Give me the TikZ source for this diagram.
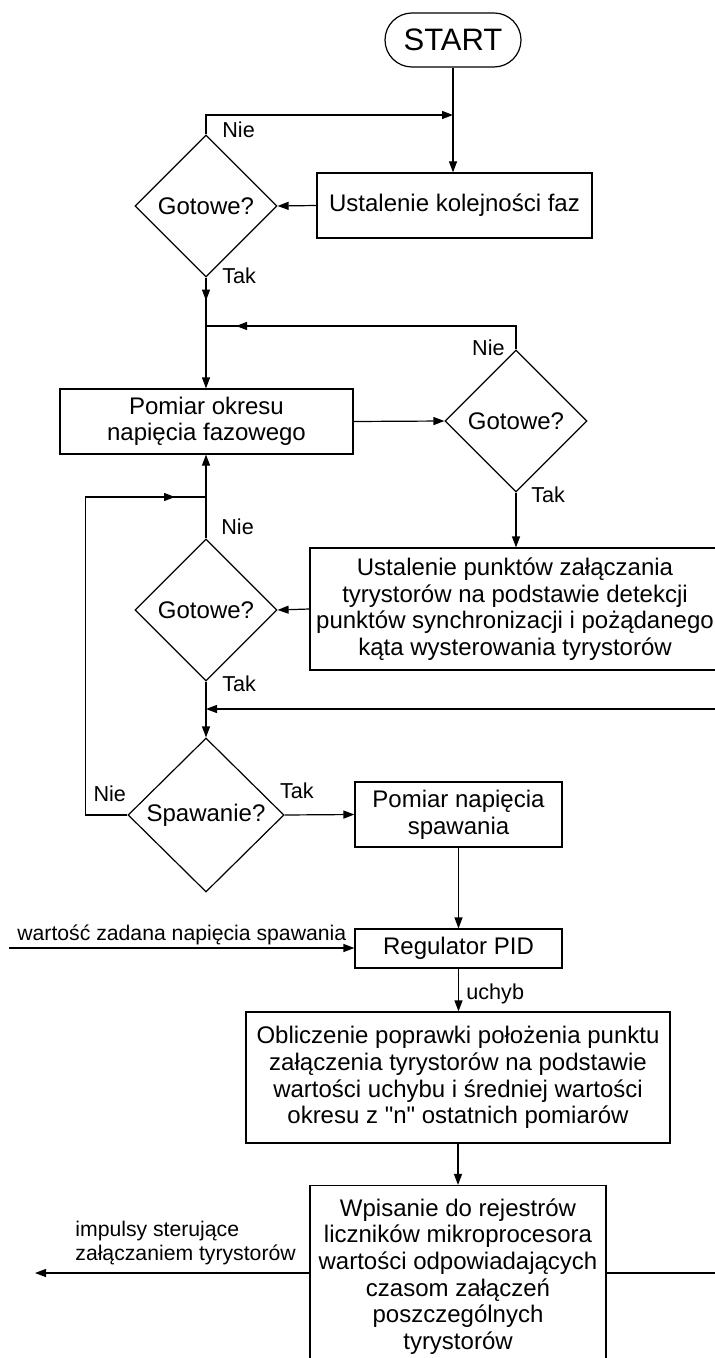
\documentclass[tikz,border=0pt]{standalone}
\usepackage{fontspec}
\setmainfont{Liberation Sans}[Ligatures=TeXOff]
\usepackage{tikz}
\usetikzlibrary{shapes.geometric, shapes.misc, arrows.meta, positioning, calc}
\tikzstyle{startstop} = [rounded rectangle, draw, line width=0.6pt, minimum width=68pt, minimum height=27pt, inner sep=0pt, font=\fontsize{15.5}{18}\selectfont]
\tikzstyle{process} = [rectangle, draw, line width=0.6pt, align=center, inner sep=1pt, font=\fontsize{12}{13.3}\selectfont]
\tikzstyle{decision} = [diamond, draw, line width=0.6pt, inner sep=0pt, minimum width=71pt, minimum height=71pt, font=\fontsize{12}{13.3}\selectfont]
\tikzstyle{answer} = [inner sep=0pt, font=\fontsize{10.8}{12}\selectfont]
\tikzstyle{signal} = [inner sep=0pt, align=left, font=\fontsize{10.6}{11.6}\selectfont]
\tikzstyle{wire} = [line width=0.6pt]
\tikzstyle{arrow} = [line width=0.6pt, -{Triangle[length=5.5pt,width=4pt]}]

\begin{document}
\begin{tikzpicture}[x=0.5pt, y=-0.5pt]
  \useasboundingbox (0,0) rectangle (715,1358);
  \clip (0,0) rectangle (715,1358);

  % Phase order
  \node (start) [startstop] at (453,40) {START};
  \node (kolejnosc) [process, minimum width=137.5pt, minimum height=32.5pt] at (454.5,205.5) {Ustalenie kolejności faz};
  \node (gotowe1) [decision] at (206,206) {Gotowe?};

  % Period measurement
  \node (pomiar) [process, minimum width=146.5pt, minimum height=32.5pt] at (206.5,421.5) {Pomiar okresu\\napięcia fazowego};
  \node (gotowe2) [decision] at (516,421) {Gotowe?};
  \node (ustalenie) [process, minimum width=205pt, minimum height=61pt] at (515,609) {Ustalenie punktów załączania\\tyrystorów na podstawie detekcji\\punktów synchronizacji i pożądanego\\kąta wysterowania tyrystorów};
  \node (gotowe3) [decision] at (206,610) {Gotowe?};

  % Welding control
  \node (spawanie) [decision, minimum width=78pt, minimum height=77pt] at (206,815) {Spawanie?};
  \node (pomiarnap) [process, minimum width=103.5pt, minimum height=32.5pt] at (458.5,814.5) {Pomiar napięcia\\spawania};
  \node (regulator) [process, minimum width=103.5pt, minimum height=19.5pt] at (458.5,948.5) {Regulator PID};
  \node (oblicz) [process, minimum width=212pt, minimum height=65.5pt] at (458,1077.5) {Obliczenie poprawki położenia punktu\\załączenia tyrystorów na podstawie\\wartości uchybu i średniej wartości\\okresu z "n" ostatnich pomiarów};
  \node (wpisanie) [process, minimum width=148pt, minimum height=91pt] at (458,1276.5) {Wpisanie do rejestrów\\liczników mikroprocesora\\wartości odpowiadających\\czasom załączeń\\poszczególnych\\tyrystorów};

  % Junctions and free ends
  \coordinate (j0) at (453,115);
  \coordinate (j1) at (206,326);
  \coordinate (j2) at (206,497);
  \coordinate (j3) at (206,709);
  \coordinate (setp) at (9,948);
  \coordinate (impulsy) at (35,1273);

  % Arrows
  \draw[arrow] (start.south) -- (start.south |- kolejnosc.north);
  \draw[arrow] (gotowe1.north) |- (j0);
  \node (nie1) [answer, anchor=base west] at ($(gotowe1.north)+(16,3)$) {Nie};
  \draw[arrow] (kolejnosc.west) -- (gotowe1.east);

  \draw[arrow] (gotowe1.south) -- (gotowe1.south |- pomiar.north);
  \draw[arrow] (gotowe1.south) -- ++(0,23);
  \node (tak1) [answer, anchor=base west] at ($(gotowe1.south)+(16,6)$) {Tak};

  \draw[wire] (gotowe2.north) |- (j1);
  \draw[arrow] (gotowe2.north) |- ($(j1)+(30,0)$);
  \node (nie2) [answer, anchor=base east] at ($(gotowe2.north)+(-11,6)$) {Nie};
  \draw[arrow] (pomiar.east) -- (gotowe2.west);
  \draw[arrow] (gotowe2.south) -- (gotowe2.south |- ustalenie.north);
  \node (tak2) [answer, anchor=base west] at ($(gotowe2.south)+(15,10)$) {Tak};

  \draw[arrow] (ustalenie.west) -- (gotowe3.east);
  \draw[arrow] (gotowe3.north) -- (gotowe3.north |- pomiar.south);
  \node (nie3) [answer, anchor=base west] at ($(gotowe3.north)+(15,-4)$) {Nie};
  \draw[arrow] (gotowe3.south) -- (spawanie.north);
  \node (tak3) [answer, anchor=base west] at ($(gotowe3.south)+(16,10)$) {Tak};

  \draw[wire] (spawanie.west) -- ++(-42,0) |- (j2);
  \draw[arrow] (spawanie.west) -- ++(-42,0) |- ($(j2)+(-31,0)$);
  \node (nie4) [answer, anchor=base east] at ($(spawanie.west)+(-1,-14)$) {Nie};
  \draw[arrow] (spawanie.east) -- (pomiarnap.west);
  \node (tak4) [answer, anchor=base west] at ($(spawanie.east)+(-5,-17)$) {Tak};

  \draw[arrow] (pomiarnap.south) -- (regulator.north);
  \draw[arrow] (setp) -- (setp -| regulator.west);
  \node (zadana) [signal, anchor=base west] at (17,940) {wartość zadana napięcia spawania};
  \draw[arrow] (regulator.south) -- (regulator.south |- oblicz.north);
  \node (uchyb) [answer, anchor=base west] at (466,999) {uchyb};
  \draw[arrow] (oblicz.south) -- (oblicz.south |- wpisanie.north);

  \draw[arrow] (impulsy -| wpisanie.west) -- (impulsy);
  \node (sterujace) [signal, anchor=west] at (75,1243) {impulsy sterujące\\załączaniem tyrystorów};
  \draw[arrow] (impulsy -| wpisanie.east) -- ++(130,0) |- (j3);
\end{tikzpicture}
\end{document}
